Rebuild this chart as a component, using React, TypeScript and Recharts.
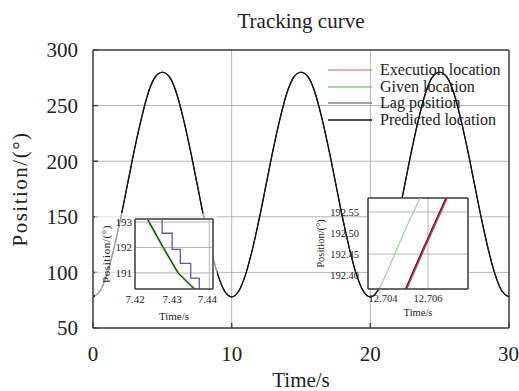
import React from 'react';
import { LineChart, Line, XAxis, YAxis, CartesianGrid, ReferenceLine } from 'recharts';

const FONT = '"Liberation Serif", "Times New Roman", serif';

const timeS = [
  0, 0.5, 1, 1.5, 2, 2.5, 3, 3.5, 4, 4.5, 5, 5.5, 6, 6.5, 7, 7.5, 8, 8.5, 9, 9.5,
  10, 10.5, 11, 11.5, 12, 12.5, 13, 13.5, 14, 14.5, 15, 15.5, 16, 16.5, 17, 17.5, 18, 18.5, 19, 19.5,
  20, 20.5, 21, 21.5, 22, 22.5, 23, 23.5, 24, 24.5, 25, 25.5, 26, 26.5, 27, 27.5, 28, 28.5, 29, 29.5, 30,
];
const positionDeg = [
  78, 83, 98, 121, 149, 180, 211, 239, 262, 276, 280, 276, 262, 239, 211, 180, 149, 121, 98, 83,
  78, 83, 98, 121, 149, 180, 211, 239, 262, 276, 280, 276, 262, 239, 211, 180, 149, 121, 98, 83,
  78, 83, 98, 121, 149, 180, 211, 239, 262, 276, 280, 276, 262, 239, 211, 180, 149, 121, 98, 83, 78,
];
const xTicks = [0, 10, 20, 30];
const yTicks = [50, 100, 150, 200, 250, 300];

// zoom A (falling edge near 7.43 s)
const zoomATicksX = [7.42, 7.43, 7.44];
const zoomATicksY = [191, 192, 193];
const zoomAGivenT = [7.4225, 7.4238, 7.4276, 7.4316, 7.4372];
const zoomAGivenV = [193.35, 193.0, 192.0, 191.0, 190.2];
const zoomALagT = [7.4273, 7.43, 7.4322, 7.435, 7.4373, 7.4395];
const zoomALagV = [193.4, 192.56, 191.93, 191.38, 190.8, 190.1];

// zoom B (rising edge near 12.705 s)
const zoomBTicksX = [12.704, 12.706];
const zoomBTicksY = [192.4, 192.45, 192.5, 192.55];
const zoomBGivenT = [12.7036, 12.7042, 12.705, 12.7058];
const zoomBGivenV = [192.34, 192.41, 192.51, 192.6];
const zoomBExecT = [12.7049, 12.7058, 12.7069];
const zoomBExecV = [192.35, 192.46, 192.59];
const zoomBPredV = [192.356, 192.466, 192.596];

const series = [
  { key: 'exec', name: 'Execution location', color: '#d65a5a' },
  { key: 'given', name: 'Given location', color: '#4fae4f' },
  { key: 'lag', name: 'Lag position', color: '#44448a' },
  { key: 'pred', name: 'Predicted location', color: '#111111' },
];

const mainRows = timeS.map((t, i) => ({
  t,
  exec: positionDeg[i],
  given: positionDeg[i],
  lag: positionDeg[i],
  pred: positionDeg[i],
}));

const pts = (ts: number[], vs: number[]) => ts.map((t, i) => ({ t, v: vs[i] }));

const axisColor = '#444';
const gridColor = '#b4b4b4';

function Legend() {
  return (
    <div style={{ position: 'absolute', left: 328, top: 62, fontFamily: FONT, fontSize: 16, color: '#222' }}>
      {series.map((s) => (
        <div key={s.key} style={{ display: 'flex', alignItems: 'center', height: 16.6, lineHeight: '16.6px' }}>
          <svg width={44} height={4} style={{ marginRight: 8 }}>
            <line x1={0} y1={2} x2={44} y2={2} stroke={s.color} strokeWidth={s.key === 'pred' ? 1.5 : 1.1} />
          </svg>
          <span>{s.name}</span>
        </div>
      ))}
    </div>
  );
}

function ZoomA() {
  const small = { fontSize: 11, fill: '#222', fontFamily: FONT };
  return (
    <div style={{ position: 'absolute', left: 95, top: 213, width: 122, height: 112, background: 'rgba(255,255,255,0.6)' }}>
      <LineChart width={122} height={112} margin={{ top: 6, right: 4, bottom: 0, left: 0 }}>
        <CartesianGrid fill="#fff" stroke={gridColor} />
        <XAxis
          dataKey="t"
          type="number"
          domain={[7.42, 7.441]}
          ticks={zoomATicksX}
          allowDataOverflow
          height={36}
          tickLine={false}
          tickSize={0}
          tickMargin={6}
          stroke={axisColor}
          strokeWidth={1.5}
          tick={small}
          label={{ value: 'Time/s', position: 'insideBottom', offset: 5, style: { fontSize: 11, fill: '#222', fontFamily: FONT } }}
        />
        <YAxis
          type="number"
          domain={[190.37, 193.12]}
          ticks={zoomATicksY}
          allowDataOverflow
          width={40}
          tickLine={false}
          tickSize={0}
          tickMargin={3}
          stroke={axisColor}
          strokeWidth={1.5}
          tick={small}
          label={{ value: 'Position/(°)', angle: -90, position: 'insideLeft', offset: 11, style: { textAnchor: 'middle', fontSize: 11, letterSpacing: 0.6, fill: '#222', fontFamily: FONT } }}
        />
        <ReferenceLine y={193.12} stroke={axisColor} strokeWidth={1.5} />
        <ReferenceLine x={7.441} stroke={axisColor} strokeWidth={1.5} />
        <Line data={pts(zoomAGivenT, zoomAGivenV)} dataKey="v" stroke={series[0].color} strokeWidth={1} dot={false} isAnimationActive={false} />
        <Line data={pts(zoomAGivenT, zoomAGivenV)} dataKey="v" stroke="#8fcf7f" strokeWidth={2.6} dot={false} isAnimationActive={false} />
        <Line data={pts(zoomALagT, zoomALagV)} dataKey="v" type="stepBefore" stroke="#5a5aa8" strokeWidth={1.3} dot={false} isAnimationActive={false} />
        <Line data={pts(zoomAGivenT, zoomAGivenV)} dataKey="v" stroke={series[3].color} strokeWidth={1} dot={false} isAnimationActive={false} />
      </LineChart>
    </div>
  );
}

function ZoomB() {
  const small = { fontSize: 10.5, fill: '#222', fontFamily: FONT };
  return (
    <div style={{ position: 'absolute', left: 310, top: 192, width: 164, height: 129 }}>
      <LineChart width={164} height={129} margin={{ top: 6, right: 6, bottom: 0, left: 0 }}>
        <CartesianGrid fill="#fff" stroke={gridColor} />
        <XAxis
          dataKey="t"
          type="number"
          domain={[12.70333, 12.70778]}
          ticks={zoomBTicksX}
          allowDataOverflow
          height={32}
          tickLine={false}
          tickSize={0}
          tickMargin={6}
          stroke={axisColor}
          strokeWidth={1.5}
          tick={small}
          label={{ value: 'Time/s', position: 'insideBottom', offset: 5, style: { fontSize: 10.5, fill: '#222', fontFamily: FONT } }}
        />
        <YAxis
          type="number"
          domain={[192.367, 192.583]}
          ticks={zoomBTicksY}
          allowDataOverflow
          width={58}
          tickLine={false}
          tickSize={0}
          tickMargin={9}
          stroke={axisColor}
          strokeWidth={1.5}
          tick={small}
          tickFormatter={(v: number) => v.toFixed(2)}
          label={{ value: 'Position/(°)', angle: -90, position: 'insideLeft', offset: 10, style: { textAnchor: 'middle', fontSize: 10.5, fill: '#222', fontFamily: FONT } }}
        />
        <ReferenceLine y={192.583} stroke={axisColor} strokeWidth={1.5} />
        <ReferenceLine x={12.70778} stroke={axisColor} strokeWidth={1.5} />
        <Line data={pts(zoomBGivenT, zoomBGivenV)} dataKey="v" stroke="#9fd09f" strokeWidth={1.2} dot={false} isAnimationActive={false} />
        <Line data={pts(zoomBExecT, zoomBExecV)} dataKey="v" stroke="#c8305a" strokeWidth={2} dot={false} isAnimationActive={false} />
        <Line data={pts(zoomBExecT, zoomBPredV)} dataKey="v" stroke="#222" strokeWidth={1} dot={false} isAnimationActive={false} />
      </LineChart>
    </div>
  );
}

export default function App() {
  const tickStyle = { fontSize: 21, fill: '#222', fontFamily: FONT };
  return (
    <div style={{ position: 'absolute', left: 0, top: 0, width: 519, height: 391, background: '#fff', fontFamily: FONT, overflow: 'hidden' }}>
      <style>{`.recharts-wrapper text { font-family: "Liberation Serif", "Times New Roman", serif !important; }`}</style>
      <div style={{ position: 'absolute', left: 93, top: 11, width: 416, textAlign: 'center', fontSize: 21, lineHeight: '21px', color: '#222' }}>
        Tracking curve
      </div>
      <LineChart width={519} height={391} data={mainRows} margin={{ top: 50, right: 10, bottom: 0, left: 0 }}>
        <CartesianGrid stroke={gridColor} />
        <XAxis
          dataKey="t"
          type="number"
          domain={[0, 30]}
          ticks={xTicks}
          height={63}
          tickSize={-5}
          tickMargin={23}
          stroke={axisColor}
          strokeWidth={1.5}
          tick={tickStyle}
          label={{ value: 'Time/s', position: 'insideBottom', offset: 4, style: { fontSize: 21, fill: '#222', fontFamily: FONT } }}
        />
        <YAxis
          type="number"
          domain={[50, 300]}
          ticks={yTicks}
          width={93}
          tickSize={-5}
          tickMargin={20}
          stroke={axisColor}
          strokeWidth={1.5}
          tick={tickStyle}
          label={{ value: 'Position/(°)', angle: -90, position: 'insideLeft', offset: 20, style: { textAnchor: 'middle', fontSize: 21, letterSpacing: 1.5, fill: '#222', fontFamily: FONT } }}
        />
        <ReferenceLine y={300} stroke={axisColor} strokeWidth={1.5} />
        <ReferenceLine x={30} stroke={axisColor} strokeWidth={1.5} />
        {series.map((s) => (
          <Line
            key={s.key}
            dataKey={s.key}
            name={s.name}
            type="monotone"
            stroke={s.color}
            strokeWidth={s.key === 'pred' ? 1.2 : 1.1}
            dot={false}
            isAnimationActive={false}
          />
        ))}
      </LineChart>
      <Legend />
      <ZoomA />
      <ZoomB />
    </div>
  );
}
